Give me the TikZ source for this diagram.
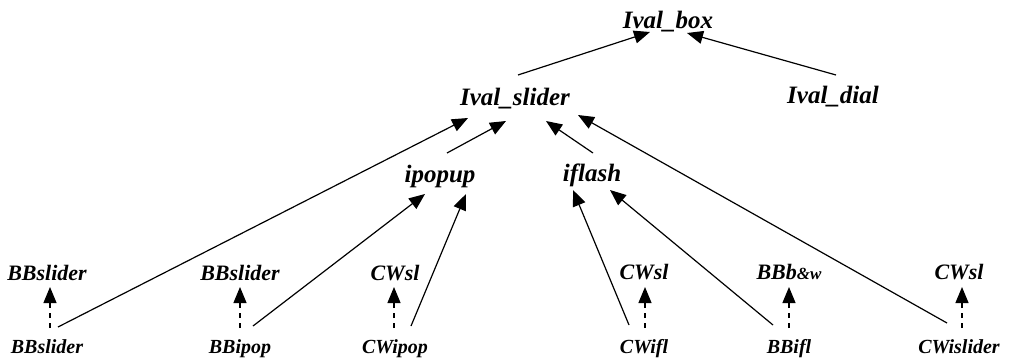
\documentclass[tikz,border=0pt]{standalone}
\usepackage{fontspec}
\setmainfont{Liberation Serif}
\usetikzlibrary{arrows.meta}

\tikzset{
  lbl/.style={inner sep=0pt, anchor=base, font=\bfseries\itshape},
  top/.style={lbl, font=\fontsize{25}{25}\selectfont\bfseries\itshape},
  mid/.style={lbl, font=\fontsize{22}{22}\selectfont\bfseries\itshape},
  low/.style={lbl, font=\fontsize{20}{20}\selectfont\bfseries\itshape},
  arr/.style={line width=1.2pt, -{Triangle[length=16pt,width=13pt]}},
  darr/.style={line width=1.2pt, dash pattern=on 5pt off 5pt,
               -{Triangle[length=16pt,width=13pt]}},
}

\begin{document}
\begin{tikzpicture}[x=1pt, y=-1pt]
  \useasboundingbox (0,0) rectangle (1010,359);

  % class hierarchy
  \node[top] (box)    at (668,28)  {Ival\_box};
  \node[top] (slider) at (515,105) {Ival\_slider};
  \node[top] (dial)   at (833,103) {Ival\_dial};
  \node[top] (ipopup) at (440,182) {ipopup};
  \node[top] (iflash) at (592,181) {iflash};

  % toolkit widgets
  \node[mid] (u1) at (47,280)  {BBslider};
  \node[mid] (u2) at (240,280) {BBslider};
  \node[mid] (u3) at (395,280) {CWsl};
  \node[mid] (u4) at (644,279) {CWsl};
  \node[mid] (u5) at (789,279) {BBb{\fontsize{17}{17}\selectfont\&w}};
  \node[mid] (u6) at (959,279) {CWsl};

  % implementation classes
  \node[low] (l1) at (47,353)  {BBslider};
  \node[low] (l2) at (240,353) {BBipop};
  \node[low] (l3) at (395,353) {CWipop};
  \node[low] (l4) at (644,353) {CWifl};
  \node[low] (l5) at (789,353) {BBifl};
  \node[low] (l6) at (959,353) {CWislider};

  % inheritance
  \draw[arr] ([shift={(3,-30)}]slider.base) -- ([shift={(-18,4)}]box.base);
  \draw[arr] ([shift={(3,-28)}]dial.base)   -- ([shift={(19,5)}]box.base);
  \draw[arr] ([shift={(7,-29)}]ipopup.base) -- ([shift={(-9,16)}]slider.base);
  \draw[arr] ([shift={(1,-28)}]iflash.base) -- ([shift={(31,16)}]slider.base);
  \draw[arr] ([shift={(11,-26)}]l1.base)    -- ([shift={(-47,13)}]slider.base);
  \draw[arr] ([shift={(-12,-30)}]l6.base)   -- ([shift={(63,10)}]slider.base);
  \draw[arr] ([shift={(13,-27)}]l2.base)    -- ([shift={(-15,12)}]ipopup.base);
  \draw[arr] ([shift={(16,-27)}]l3.base)    -- ([shift={(26,12)}]ipopup.base);
  \draw[arr] ([shift={(-15,-28)}]l4.base)   -- ([shift={(-19,9)}]iflash.base);
  \draw[arr] ([shift={(-16,-28)}]l5.base)   -- ([shift={(18,9)}]iflash.base);

  % uses
  \draw[darr] ([shift={(3,-25)}]l1.base)  -- ([shift={(3,7)}]u1.base);
  \draw[darr] ([shift={(0,-25)}]l2.base)  -- ([shift={(0,7)}]u2.base);
  \draw[darr] ([shift={(-1,-25)}]l3.base) -- ([shift={(-1,7)}]u3.base);
  \draw[darr] ([shift={(1,-25)}]l4.base)  -- ([shift={(1,8)}]u4.base);
  \draw[darr] ([shift={(0,-25)}]l5.base)  -- ([shift={(0,8)}]u5.base);
  \draw[darr] ([shift={(3,-25)}]l6.base)  -- ([shift={(3,8)}]u6.base);
\end{tikzpicture}
\end{document}
